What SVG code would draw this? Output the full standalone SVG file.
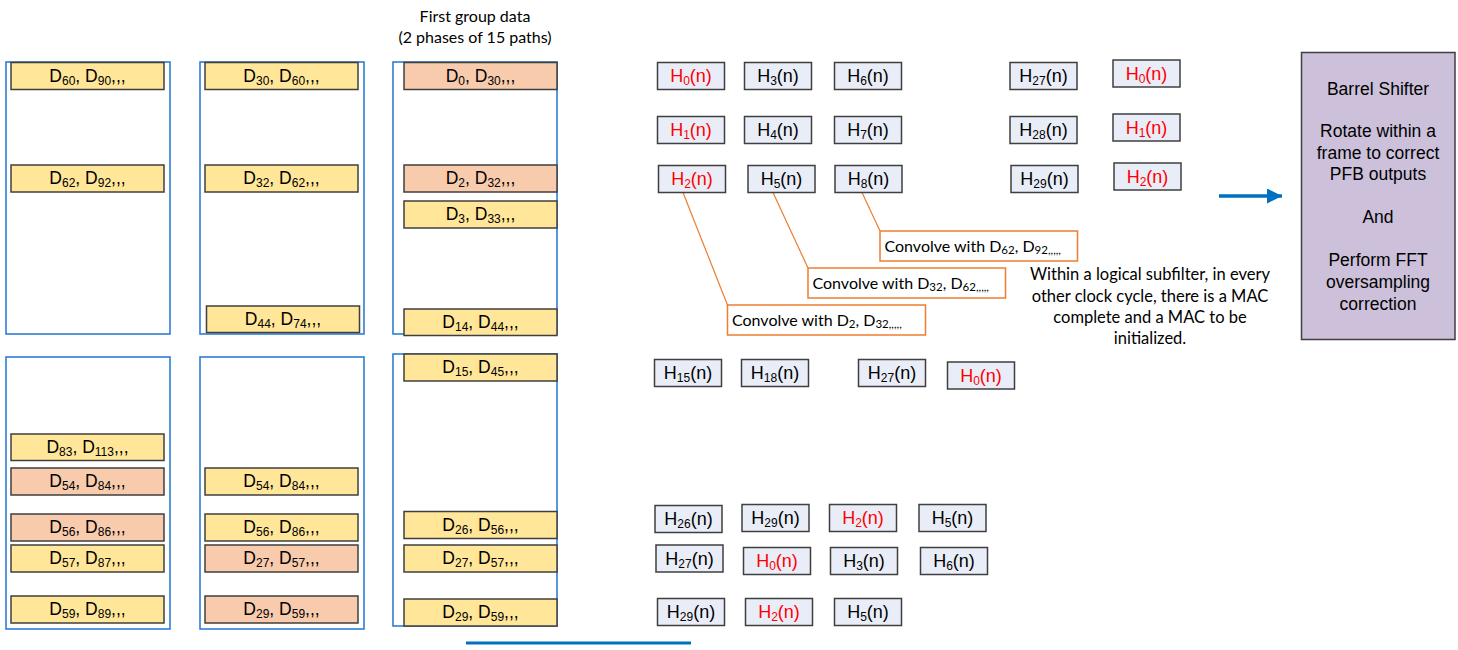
<svg xmlns="http://www.w3.org/2000/svg" width="1458" height="650" viewBox="0 0 1458 650">
<defs>
<style>
.cont{fill:none;stroke:#2E7DD2;stroke-width:1.6}
.dy{fill:#FFE699;stroke:#3F3F3F;stroke-width:1.5}
.do{fill:#F8CBAD;stroke:#3F3F3F;stroke-width:1.5}
.hb{fill:#E9EDF7;stroke:#3F3F3F;stroke-width:1.5}
.cb{fill:#FFFFFF;stroke:#ED7D31;stroke-width:1.5}
.dt{font-family:"Liberation Sans",Arial,sans-serif;font-size:17.5px;fill:#000;text-anchor:middle}
.ht{font-family:"Liberation Sans",Arial,sans-serif;font-size:18px;fill:#000;text-anchor:middle}
.red{fill:#FF0000}
.s{font-size:12px}
.cs{font-size:11.5px}
.cal{font-family:Lato,"Open Sans",sans-serif;font-size:16px;fill:#000}
.note{font-family:Lato,"Open Sans",sans-serif;font-size:16.5px;fill:#000;text-anchor:middle}
.bt{font-family:"Liberation Sans",Arial,sans-serif;font-size:17.5px;fill:#000;text-anchor:middle}
.ol{stroke:#ED7D31;stroke-width:1.2;fill:none}
</style>
<marker id="ah" markerUnits="userSpaceOnUse" markerWidth="16" markerHeight="16" refX="15" refY="7.5" orient="auto">
<path d="M0,0 L15,7.5 L0,15 Z" fill="#0070C0"/>
</marker>
</defs>
<rect width="1458" height="650" fill="#FFFFFF"/>

<g id="title">
<text class="cal" x="475" y="22" text-anchor="middle">First group data</text>
<text class="cal" x="475" y="43" text-anchor="middle">(2 phases of 15 paths)</text>
</g>

<g id="containers">
<rect class="cont" x="6" y="62" width="164" height="272"/>
<rect class="cont" x="200" y="62" width="164" height="272"/>
<rect class="cont" x="393" y="62" width="164" height="272"/>
<rect class="cont" x="6" y="357" width="164" height="272"/>
<rect class="cont" x="200" y="357" width="164" height="272"/>
<rect class="cont" x="393" y="354" width="164" height="272"/>
</g>

<g id="col1">
<g id="d60"><rect class="dy" x="11" y="62.5" width="153" height="27"/><text class="dt" x="87.5" y="81.5">D<tspan class="s" dy="3">60</tspan><tspan dy="-3">, D</tspan><tspan class="s" dy="3">90</tspan><tspan dy="-3">,,,</tspan></text></g>
<g id="d62"><rect class="dy" x="11" y="165" width="153" height="27"/><text class="dt" x="87.5" y="184">D<tspan class="s" dy="3">62</tspan><tspan dy="-3">, D</tspan><tspan class="s" dy="3">92</tspan><tspan dy="-3">,,,</tspan></text></g>
<g id="d83"><rect class="dy" x="11" y="434" width="153" height="26.5"/><text class="dt" x="87.5" y="453">D<tspan class="s" dy="3">83</tspan><tspan dy="-3">, D</tspan><tspan class="s" dy="3">113</tspan><tspan dy="-3">,,,</tspan></text></g>
<g id="d54a"><rect class="do" x="11" y="468" width="153" height="27"/><text class="dt" x="87.5" y="487">D<tspan class="s" dy="3">54</tspan><tspan dy="-3">, D</tspan><tspan class="s" dy="3">84</tspan><tspan dy="-3">,,,</tspan></text></g>
<g id="d56a"><rect class="do" x="11" y="514" width="153" height="27"/><text class="dt" x="87.5" y="533">D<tspan class="s" dy="3">56</tspan><tspan dy="-3">, D</tspan><tspan class="s" dy="3">86</tspan><tspan dy="-3">,,,</tspan></text></g>
<g id="d57a"><rect class="dy" x="11" y="545" width="153" height="27"/><text class="dt" x="87.5" y="564">D<tspan class="s" dy="3">57</tspan><tspan dy="-3">, D</tspan><tspan class="s" dy="3">87</tspan><tspan dy="-3">,,,</tspan></text></g>
<g id="d59a"><rect class="dy" x="11" y="596" width="153" height="27"/><text class="dt" x="87.5" y="615">D<tspan class="s" dy="3">59</tspan><tspan dy="-3">, D</tspan><tspan class="s" dy="3">89</tspan><tspan dy="-3">,,,</tspan></text></g>
</g>

<g id="col2">
<g id="d30"><rect class="dy" x="205" y="62.5" width="153" height="27"/><text class="dt" x="281.5" y="81.5">D<tspan class="s" dy="3">30</tspan><tspan dy="-3">, D</tspan><tspan class="s" dy="3">60</tspan><tspan dy="-3">,,,</tspan></text></g>
<g id="d32"><rect class="dy" x="205" y="165" width="153" height="27"/><text class="dt" x="281.5" y="184">D<tspan class="s" dy="3">32</tspan><tspan dy="-3">, D</tspan><tspan class="s" dy="3">62</tspan><tspan dy="-3">,,,</tspan></text></g>
<g id="d44"><rect class="dy" x="206.5" y="306" width="153" height="26.5"/><text class="dt" x="283" y="325">D<tspan class="s" dy="3">44</tspan><tspan dy="-3">, D</tspan><tspan class="s" dy="3">74</tspan><tspan dy="-3">,,,</tspan></text></g>
<g id="d54b"><rect class="dy" x="205" y="468" width="153" height="27"/><text class="dt" x="281.5" y="487">D<tspan class="s" dy="3">54</tspan><tspan dy="-3">, D</tspan><tspan class="s" dy="3">84</tspan><tspan dy="-3">,,,</tspan></text></g>
<g id="d56b"><rect class="dy" x="205" y="514" width="153" height="27"/><text class="dt" x="281.5" y="533">D<tspan class="s" dy="3">56</tspan><tspan dy="-3">, D</tspan><tspan class="s" dy="3">86</tspan><tspan dy="-3">,,,</tspan></text></g>
<g id="d27b"><rect class="do" x="205" y="545" width="153" height="27"/><text class="dt" x="281.5" y="564">D<tspan class="s" dy="3">27</tspan><tspan dy="-3">, D</tspan><tspan class="s" dy="3">57</tspan><tspan dy="-3">,,,</tspan></text></g>
<g id="d29b"><rect class="do" x="205" y="596" width="153" height="27"/><text class="dt" x="281.5" y="615">D<tspan class="s" dy="3">29</tspan><tspan dy="-3">, D</tspan><tspan class="s" dy="3">59</tspan><tspan dy="-3">,,,</tspan></text></g>
</g>

<g id="col3">
<g id="d0"><rect class="do" x="404" y="62.5" width="153" height="27"/><text class="dt" x="480.5" y="81.5">D<tspan class="s" dy="3">0</tspan><tspan dy="-3">, D</tspan><tspan class="s" dy="3">30</tspan><tspan dy="-3">,,,</tspan></text></g>
<g id="d2"><rect class="do" x="404" y="165" width="153" height="27"/><text class="dt" x="480.5" y="184">D<tspan class="s" dy="3">2</tspan><tspan dy="-3">, D</tspan><tspan class="s" dy="3">32</tspan><tspan dy="-3">,,,</tspan></text></g>
<g id="d3"><rect class="dy" x="404" y="201" width="153" height="27"/><text class="dt" x="480.5" y="220">D<tspan class="s" dy="3">3</tspan><tspan dy="-3">, D</tspan><tspan class="s" dy="3">33</tspan><tspan dy="-3">,,,</tspan></text></g>
<g id="d14"><rect class="dy" x="404" y="309" width="153" height="26.5"/><text class="dt" x="480.5" y="328">D<tspan class="s" dy="3">14</tspan><tspan dy="-3">, D</tspan><tspan class="s" dy="3">44</tspan><tspan dy="-3">,,,</tspan></text></g>
<g id="d15"><rect class="dy" x="404" y="354" width="153" height="27"/><text class="dt" x="480.5" y="373">D<tspan class="s" dy="3">15</tspan><tspan dy="-3">, D</tspan><tspan class="s" dy="3">45</tspan><tspan dy="-3">,,,</tspan></text></g>
<g id="d26"><rect class="dy" x="404" y="511.5" width="153" height="27"/><text class="dt" x="480.5" y="530.5">D<tspan class="s" dy="3">26</tspan><tspan dy="-3">, D</tspan><tspan class="s" dy="3">56</tspan><tspan dy="-3">,,,</tspan></text></g>
<g id="d27c"><rect class="dy" x="404" y="545" width="153" height="27"/><text class="dt" x="480.5" y="564">D<tspan class="s" dy="3">27</tspan><tspan dy="-3">, D</tspan><tspan class="s" dy="3">57</tspan><tspan dy="-3">,,,</tspan></text></g>
<g id="d29c"><rect class="dy" x="404" y="599" width="153" height="27"/><text class="dt" x="480.5" y="618">D<tspan class="s" dy="3">29</tspan><tspan dy="-3">, D</tspan><tspan class="s" dy="3">59</tspan><tspan dy="-3">,,,</tspan></text></g>
</g>

<g id="connectors">
<line class="ol" x1="683" y1="192.5" x2="727.5" y2="305"/>
<line class="ol" x1="773" y1="192.5" x2="808" y2="268"/>
<line class="ol" x1="862" y1="192.5" x2="880" y2="231"/>
<line x1="1219" y1="196" x2="1282" y2="196" stroke="#0070C0" stroke-width="3.5" marker-end="url(#ah)"/>
<line x1="466" y1="643" x2="691" y2="643" stroke="#0070C0" stroke-width="3"/>
</g>

<g id="hboxes-top">
<g id="h0a"><rect class="hb" x="657.5" y="62.5" width="67" height="27"/><text class="ht red" x="691" y="82">H<tspan class="s" dy="3">0</tspan><tspan dy="-3">(n)</tspan></text></g>
<g id="h3a"><rect class="hb" x="744.5" y="62.5" width="67" height="27"/><text class="ht" x="778" y="82">H<tspan class="s" dy="3">3</tspan><tspan dy="-3">(n)</tspan></text></g>
<g id="h6a"><rect class="hb" x="834.5" y="62.5" width="67" height="27"/><text class="ht" x="868" y="82">H<tspan class="s" dy="3">6</tspan><tspan dy="-3">(n)</tspan></text></g>
<g id="h27a"><rect class="hb" x="1010" y="62.5" width="67" height="27"/><text class="ht" x="1043.5" y="82">H<tspan class="s" dy="3">27</tspan><tspan dy="-3">(n)</tspan></text></g>
<g id="h0b"><rect class="hb" x="1113" y="60" width="67" height="27"/><text class="ht red" x="1146.5" y="79.5">H<tspan class="s" dy="3">0</tspan><tspan dy="-3">(n)</tspan></text></g>
<g id="h1a"><rect class="hb" x="657.5" y="116.5" width="67" height="27"/><text class="ht red" x="691" y="136">H<tspan class="s" dy="3">1</tspan><tspan dy="-3">(n)</tspan></text></g>
<g id="h4a"><rect class="hb" x="744.5" y="116.5" width="67" height="27"/><text class="ht" x="778" y="136">H<tspan class="s" dy="3">4</tspan><tspan dy="-3">(n)</tspan></text></g>
<g id="h7a"><rect class="hb" x="834.5" y="116.5" width="67" height="27"/><text class="ht" x="868" y="136">H<tspan class="s" dy="3">7</tspan><tspan dy="-3">(n)</tspan></text></g>
<g id="h28a"><rect class="hb" x="1010" y="116.5" width="67" height="27"/><text class="ht" x="1043.5" y="136">H<tspan class="s" dy="3">28</tspan><tspan dy="-3">(n)</tspan></text></g>
<g id="h1b"><rect class="hb" x="1113" y="114" width="67" height="27"/><text class="ht red" x="1146.5" y="133.5">H<tspan class="s" dy="3">1</tspan><tspan dy="-3">(n)</tspan></text></g>
<g id="h2a"><rect class="hb" x="658.5" y="165.5" width="67" height="27"/><text class="ht red" x="692" y="185">H<tspan class="s" dy="3">2</tspan><tspan dy="-3">(n)</tspan></text></g>
<g id="h5a"><rect class="hb" x="748" y="165.5" width="67" height="27"/><text class="ht" x="781.5" y="185">H<tspan class="s" dy="3">5</tspan><tspan dy="-3">(n)</tspan></text></g>
<g id="h8a"><rect class="hb" x="835" y="165.5" width="67" height="27"/><text class="ht" x="868.5" y="185">H<tspan class="s" dy="3">8</tspan><tspan dy="-3">(n)</tspan></text></g>
<g id="h29a"><rect class="hb" x="1011" y="165.5" width="67" height="27"/><text class="ht" x="1044.5" y="185">H<tspan class="s" dy="3">29</tspan><tspan dy="-3">(n)</tspan></text></g>
<g id="h2b"><rect class="hb" x="1114" y="163" width="67" height="27"/><text class="ht red" x="1147.5" y="182.5">H<tspan class="s" dy="3">2</tspan><tspan dy="-3">(n)</tspan></text></g>
</g>

<g id="hboxes-bottom">
<g id="h15"><rect class="hb" x="654.5" y="359.5" width="67" height="27"/><text class="ht" x="688" y="379">H<tspan class="s" dy="3">15</tspan><tspan dy="-3">(n)</tspan></text></g>
<g id="h18"><rect class="hb" x="741.5" y="359.5" width="67" height="27"/><text class="ht" x="775" y="379">H<tspan class="s" dy="3">18</tspan><tspan dy="-3">(n)</tspan></text></g>
<g id="h27b"><rect class="hb" x="858.5" y="359.5" width="67" height="27"/><text class="ht" x="892" y="379">H<tspan class="s" dy="3">27</tspan><tspan dy="-3">(n)</tspan></text></g>
<g id="h0c"><rect class="hb" x="947.5" y="362" width="67" height="27"/><text class="ht red" x="981" y="381.5">H<tspan class="s" dy="3">0</tspan><tspan dy="-3">(n)</tspan></text></g>
<g id="h26"><rect class="hb" x="655" y="505.5" width="67" height="27"/><text class="ht" x="688.5" y="525">H<tspan class="s" dy="3">26</tspan><tspan dy="-3">(n)</tspan></text></g>
<g id="h29b"><rect class="hb" x="742" y="504.5" width="67" height="27"/><text class="ht" x="775.5" y="524">H<tspan class="s" dy="3">29</tspan><tspan dy="-3">(n)</tspan></text></g>
<g id="h2c"><rect class="hb" x="829.5" y="504.5" width="67" height="27"/><text class="ht red" x="863" y="524">H<tspan class="s" dy="3">2</tspan><tspan dy="-3">(n)</tspan></text></g>
<g id="h5b"><rect class="hb" x="919" y="504.5" width="67" height="27"/><text class="ht" x="952.5" y="524">H<tspan class="s" dy="3">5</tspan><tspan dy="-3">(n)</tspan></text></g>
<g id="h27c"><rect class="hb" x="656" y="545" width="67" height="27"/><text class="ht" x="689.5" y="564.5">H<tspan class="s" dy="3">27</tspan><tspan dy="-3">(n)</tspan></text></g>
<g id="h0d"><rect class="hb" x="743.5" y="547.5" width="67" height="27"/><text class="ht red" x="777" y="567">H<tspan class="s" dy="3">0</tspan><tspan dy="-3">(n)</tspan></text></g>
<g id="h3b"><rect class="hb" x="830.5" y="547.5" width="67" height="27"/><text class="ht" x="864" y="567">H<tspan class="s" dy="3">3</tspan><tspan dy="-3">(n)</tspan></text></g>
<g id="h6b"><rect class="hb" x="920.5" y="547.5" width="67" height="27"/><text class="ht" x="954" y="567">H<tspan class="s" dy="3">6</tspan><tspan dy="-3">(n)</tspan></text></g>
<g id="h29c"><rect class="hb" x="657.5" y="598.5" width="67" height="27"/><text class="ht" x="691" y="618">H<tspan class="s" dy="3">29</tspan><tspan dy="-3">(n)</tspan></text></g>
<g id="h2d"><rect class="hb" x="745.5" y="598.5" width="67" height="27"/><text class="ht red" x="779" y="618">H<tspan class="s" dy="3">2</tspan><tspan dy="-3">(n)</tspan></text></g>
<g id="h5c"><rect class="hb" x="834.5" y="598.5" width="67" height="27"/><text class="ht" x="868" y="618">H<tspan class="s" dy="3">5</tspan><tspan dy="-3">(n)</tspan></text></g>
</g>

<g id="convolve">
<g id="conv1"><rect class="cb" x="880" y="231" width="197.5" height="30"/><text class="cal" x="884.5" y="252">Convolve with D<tspan class="cs" dy="2">62</tspan><tspan dy="-2">, D</tspan><tspan class="cs" dy="2">92,,,,,</tspan></text></g>
<g id="conv2"><rect class="cb" x="808" y="268" width="197.5" height="30"/><text class="cal" x="812.5" y="289">Convolve with D<tspan class="cs" dy="2">32</tspan><tspan dy="-2">, D</tspan><tspan class="cs" dy="2">62,,,,,</tspan></text></g>
<g id="conv3"><rect class="cb" x="727.5" y="305" width="198" height="30"/><text class="cal" x="732" y="326">Convolve with D<tspan class="cs" dy="2">2</tspan><tspan dy="-2">, D</tspan><tspan class="cs" dy="2">32,,,,,</tspan></text></g>
</g>

<g id="note">
<text class="note" x="1150" y="280">Within a logical subfilter, in every</text>
<text class="note" x="1150" y="302">other clock cycle, there is a MAC</text>
<text class="note" x="1150" y="323">complete and a MAC to be</text>
<text class="note" x="1150" y="344">initialized.</text>
</g>

<g id="barrel">
<rect x="1301.5" y="52.5" width="153.5" height="287" fill="#CCC0DA" stroke="#3F3F3F" stroke-width="1.5"/>
<text class="bt" x="1378" y="94.5">Barrel Shifter</text>
<text class="bt" x="1378" y="137">Rotate within a</text>
<text class="bt" x="1378" y="159">frame to correct</text>
<text class="bt" x="1378" y="180">PFB outputs</text>
<text class="bt" x="1378" y="223">And</text>
<text class="bt" x="1378" y="266">Perform FFT</text>
<text class="bt" x="1378" y="288">oversampling</text>
<text class="bt" x="1378" y="309.5">correction</text>
</g>
</svg>
